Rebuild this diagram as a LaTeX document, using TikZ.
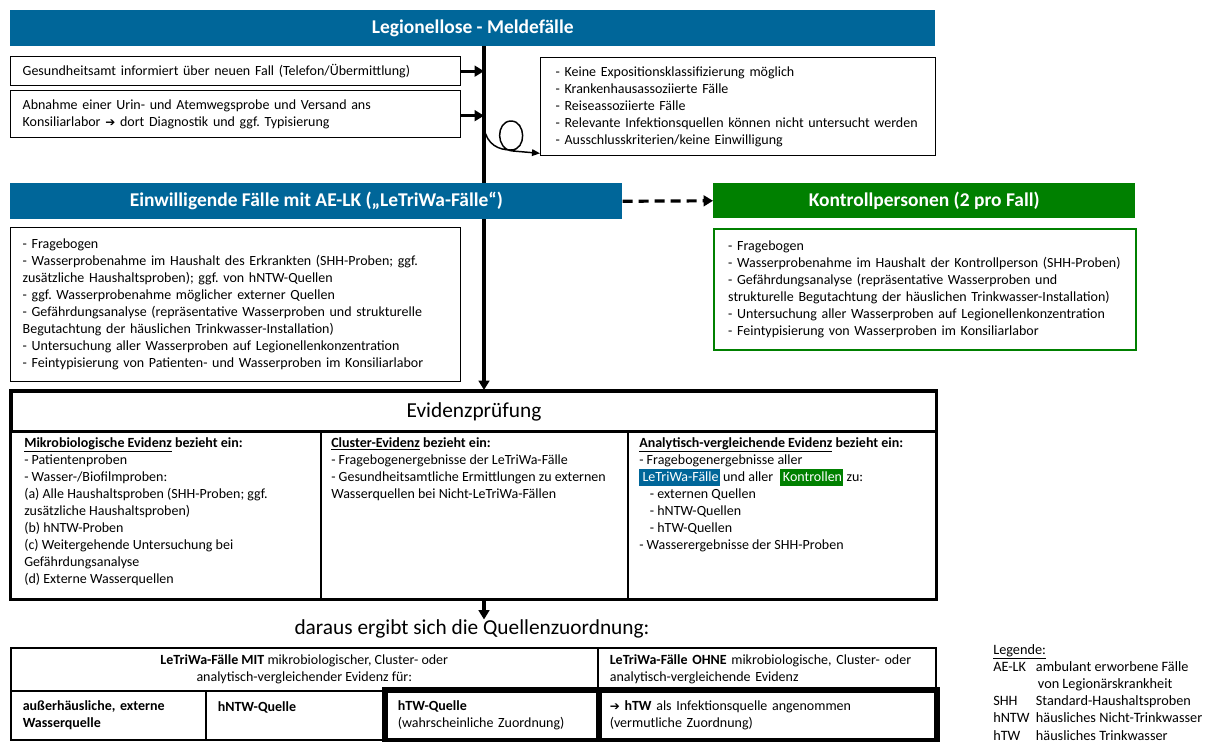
\documentclass[tikz,border=0pt]{standalone}
\usepackage{fontspec}
\setmainfont{Carlito}
\newfontfamily\arrowfont{DejaVu Sans}
\usepackage{xcolor}
\usetikzlibrary{arrows.meta,backgrounds}

\definecolor{lrblue}{RGB}{0,102,153}
\definecolor{lrgreen}{RGB}{0,128,0}
\newcommand\bodyfont{\fontsize{10.5}{12.75}\selectfont}
\newcommand\titlefont{\fontsize{14.6}{16}\selectfont\bfseries}
\newcommand\headfont{\fontsize{16}{18}\selectfont}
\newcommand\darr{{\arrowfont\bfseries\fontsize{9}{10}\selectfont ➔}}
\newcommand\hlbox[2]{{\setlength\fboxsep{0pt}\colorbox{#1}{\strut\hspace{2.5pt}\textcolor{white}{#2}\hspace{1pt}}}}
\frenchspacing

\begin{document}
\begin{tikzpicture}[x=0.75pt,y=0.75pt,yscale=-1,xscale=1,
  bar/.style={anchor=north west, inner sep=0pt, text=white, font=\titlefont},
  txtbox/.style={draw, line width=1pt, anchor=north west, inner xsep=9pt, inner ysep=0pt, align=left, font=\bodyfont},
  cell/.style={draw, line width=1.2pt, anchor=north west, inner ysep=0pt, font=\bodyfont},
  coltext/.style={anchor=north west, inner sep=0pt, align=left, font=\bodyfont},
  harrow/.style={line width=2.4pt, -{Triangle[length=7pt,width=8pt]}},
  dasharrow/.style={line width=2.4pt, dash pattern=on 7.5pt off 4.5pt, -{Triangle[length=7pt,width=8pt]}},
  looparrow/.style={line width=1.1pt, -{Triangle[length=6pt,width=5pt]}}
]
\useasboundingbox (0,0) rectangle (1211,742);

%Shape: Bar Meldefaelle
\node[bar, fill=lrblue, minimum width=693.75pt, minimum height=27pt] (meld) at (10,10) {Legionellose - Meldefälle};
\coordinate (spine) at (484,46);

% Text Node
\node[txtbox, text width=319.5pt, minimum height=21.75pt] (fall) at (10,56) {Gesundheitsamt informiert über neuen Fall (Telefon/Übermittlung)};
% Text Node
\node[txtbox, text width=319.5pt, minimum height=35.25pt] (probe) at (10,90) {Abnahme einer Urin- und Atemwegsprobe und Versand ans\\Konsiliarlabor \darr{} dort Diagnostik und ggf. Typisierung};
% Text Node
\node[txtbox, inner xsep=11.25pt, text width=273.75pt, minimum height=73.5pt] (ausschl) at (540,57) {- Keine Expositionsklassifizierung möglich\\- Krankenhausassoziierte Fälle\\- Reiseassoziierte Fälle\\- Relevante Infektionsquellen können nicht untersucht werden\\- Ausschlusskriterien/keine Einwilligung};

%Shape: Bar LeTriWa
\node[bar, fill=lrblue, minimum width=459pt, minimum height=27pt] (einw) at (10,183) {Einwilligende Fälle mit AE-LK („LeTriWa-Fälle“)};
%Shape: Bar Kontrollen
\node[bar, fill=lrgreen, minimum width=316.5pt, minimum height=26.25pt] (kontr) at (713,183) {Kontrollpersonen (2 pro Fall)};

% Text Node
\node[txtbox, text width=319.5pt, minimum height=115.5pt] (letri) at (10,227) {- Fragebogen\\- Wasserprobenahme im Haushalt des Erkrankten (SHH-Proben; ggf.\\zusätzliche Haushaltsproben); ggf. von hNTW-Quellen\\- ggf. Wasserprobenahme möglicher externer Quellen\\- Gefährdungsanalyse (repräsentative Wasserproben und strukturelle\\Begutachtung der häuslichen Trinkwasser-Installation)\\- Untersuchung aller Wasserproben auf Legionellenkonzentration\\- Feintypisierung von Patienten- und Wasserproben im Konsiliarlabor};
% Text Node
\node[txtbox, draw=lrgreen, line width=1.8pt, inner xsep=10.5pt, text width=295.5pt, minimum height=90.75pt] (kontrtext) at (713,228) {- Fragebogen\\- Wasserprobenahme im Haushalt der Kontrollperson (SHH-Proben)\\- Gefährdungsanalyse (repräsentative Wasserproben und\\strukturelle Begutachtung der häuslichen Trinkwasser-Installation)\\- Untersuchung aller Wasserproben auf Legionellenkonzentration\\- Feintypisierung von Wasserproben im Konsiliarlabor};

%Shape: Evidenzpruefung
\node[cell, line width=2.25pt, minimum width=693.75pt, minimum height=30pt, font=\headfont] (evid) at (10,390) {Evidenzprüfung};
\node[cell, minimum width=232.5pt, minimum height=126pt] (mikro) at (10,430) {};
\node[cell, minimum width=230.25pt, minimum height=126pt] (clust) at (320,430) {};
\node[cell, minimum width=231pt, minimum height=126pt] (analyt) at (627,430) {};
\draw[line width=2.25pt] (evid.north west) rectangle (analyt.south east);

% Text Node
\node[coltext] (mikrotext) at ([shift={(14,7)}]mikro.north west) {\underline{\textbf{Mikrobiologische Evidenz}} \textbf{bezieht ein:}\\- Patientenproben\\- Wasser-/Biofilmproben:\\(a) Alle Haushaltsproben (SHH-Proben; ggf.\\zusätzliche Haushaltsproben)\\(b) hNTW-Proben\\(c) Weitergehende Untersuchung bei\\Gefährdungsanalyse\\(d) Externe Wasserquellen};
% Text Node
\node[coltext] (clusttext) at ([shift={(11,7)}]clust.north west) {\underline{\textbf{Cluster-Evidenz}} \textbf{bezieht ein:}\\- Fragebogenergebnisse der LeTriWa-Fälle\\- Gesundheitsamtliche Ermittlungen zu externen\\Wasserquellen bei Nicht-LeTriWa-Fällen};
% Text Node
\node[coltext] (analyttext) at ([shift={(12,7)}]analyt.north west) {\underline{\textbf{Analytisch-vergleichende Evidenz}} \textbf{bezieht ein:}\\- Fragebogenergebnisse aller\\\hlbox{lrblue}{LeTriWa-Fälle} und aller \ \hlbox{lrgreen}{Kontrollen} zu:\\\hspace*{8pt}- externen Quellen\\\hspace*{8pt}- hNTW-Quellen\\\hspace*{8pt}- hTW-Quellen\\- Wasserergebnisse der SHH-Proben};

% Text Node
\node[font=\headfont, inner sep=0pt] (quelle) at (472,629) {daraus ergibt sich die Quellenzuordnung:};

%Shape: Table Quellenzuordnung
\node[cell, minimum width=440.25pt, minimum height=32.25pt, align=center] (mit) at (10,647) {\textbf{LeTriWa-Fälle MIT} mikrobiologischer, Cluster- oder\\analytisch-vergleichender Evidenz für:};
\node[cell, inner xsep=9pt, text width=235.5pt, minimum height=32.25pt, align=left] (ohne) at (597,647) {\textbf{LeTriWa-Fälle OHNE} mikrobiologische, Cluster- oder\\analytisch-vergleichende Evidenz};
\node[cell, inner xsep=9pt, text width=128.25pt, minimum height=36.75pt, align=left] (extern) at (10,690) {\textbf{außerhäusliche, externe}\\\textbf{Wasserquelle}};
\node[cell, inner xsep=9pt, text width=117pt, minimum height=36.75pt, align=left] (hntw) at (205,690) {\textbf{hNTW-Quelle}\\\mbox{}};
\node[cell, inner xsep=9pt, text width=141pt, minimum height=36.75pt, align=left] (htw) at (385,690) {\textbf{hTW-Quelle}\\(wahrscheinliche Zuordnung)};
\node[cell, inner xsep=9pt, text width=235.5pt, minimum height=36.75pt, align=left] (vermut) at (597,690) {\darr{} \textbf{hTW} als Infektionsquelle angenommen\\(vermutliche Zuordnung)};
\draw[line width=4.5pt] (htw.north west) rectangle (vermut.south east);
\draw[line width=4.5pt] (htw.north east) -- (htw.south east);

% Text Node
\node[coltext, font=\fontsize{10.7}{12.9}\selectfont] (legende) at (993,644) {\underline{Legende:}\\\makebox[32pt][l]{AE-LK}ambulant erworbene Fälle\\\hspace*{33.5pt}von Legionärskrankheit\\\makebox[32pt][l]{SHH}Standard-Haushaltsproben\\\makebox[32pt][l]{hNTW}häusliches Nicht-Trinkwasser\\\makebox[32pt][l]{hTW}häusliches Trinkwasser};

%Straight Lines: connectors
\draw[harrow] (fall.east) -- (fall.east -| spine);
\draw[harrow] ([shift={(0,1.5)}]probe.east) -- ([shift={(0,1.5)}]probe.east -| spine);
\draw[looparrow] ([shift={(0,82)}]spine) .. controls (487,145) and (499,150) .. (511,150) .. controls (527,150) and (526,121) .. (511,121) .. controls (496,121) and (495,150) .. (513,151) -- ([shift={(0,-3)}]ausschl.south west);
\draw[dasharrow] (einw.east) -- (kontr.west);
\draw[harrow] (clust.south -| spine) -- (quelle.north -| spine);
\begin{pgfonlayer}{background}
\draw[harrow] (spine) -- (spine |- evid.north);
\end{pgfonlayer}

\end{tikzpicture}
\end{document}
